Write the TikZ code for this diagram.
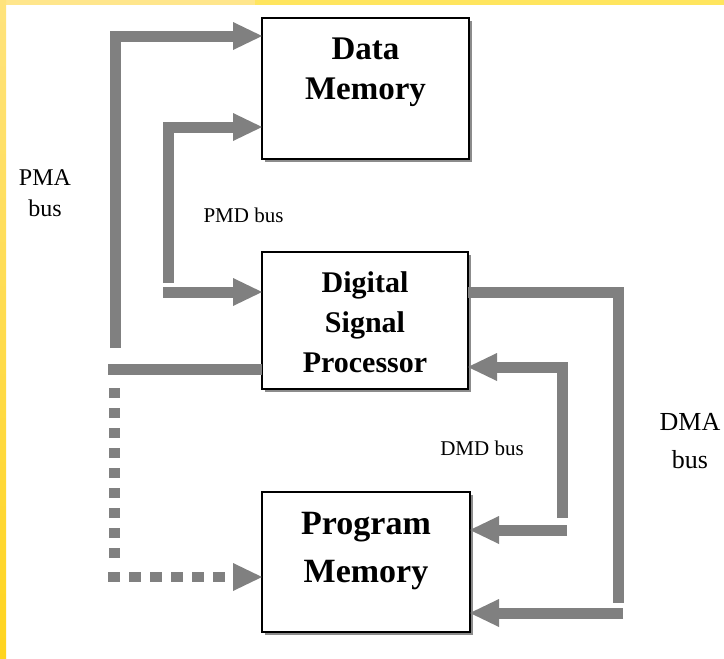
\documentclass[tikz,border=0pt]{standalone}
\usepackage{fontspec}
\setmainfont{Liberation Serif}
\usetikzlibrary{arrows.meta,shadows}
\definecolor{yelA}{HTML}{FFE68C}
\definecolor{yelB}{HTML}{FFE55E}
\definecolor{yelTop}{HTML}{FFE37C}
\definecolor{yelBot}{HTML}{FFD41E}
\definecolor{busgray}{HTML}{808080}
\begin{document}
\begin{tikzpicture}[x=1pt,y=-1pt,
  box/.style={draw=black, line width=1.6pt, fill=white, inner sep=0pt, outer sep=0pt, rectangle,
    general shadow={shadow xshift=3pt, shadow yshift=-3pt, fill=black!45}},
  bus/.style={draw=busgray, line width=11pt, line join=miter, line cap=butt},
  tip/.style={-{Triangle[length=29pt,width=28pt,line width=0pt]}},
  lbl/.style={inner sep=0pt, outer sep=0pt, align=center, text=black}
]
\useasboundingbox (0,0) rectangle (724,659);
\fill[white] (0,0) rectangle (724,659);
\fill[yelA] (0,0) rectangle (255,5);
\fill[yelB] (255,0) rectangle (724,5);
\shade[top color=yelTop, bottom color=yelBot] (0,0) rectangle (6,659);

% boxes
\node[box, minimum width=207pt, minimum height=141pt] (dm) at (365.5,88.5) {};
\node[box, minimum width=206pt, minimum height=137pt] (dsp) at (365,320.5) {};
\node[box, minimum width=208pt, minimum height=140pt] (pm) at (366,562) {};

% box texts
\node[lbl, anchor=north, font=\bfseries\fontsize{33}{40}\selectfont] (dmt) at (365.5,38) {Data\\Memory};
\node[lbl, anchor=north, font=\bfseries\fontsize{30}{40}\selectfont] (dspt) at (365,272) {Digital\\Signal\\Processor};
\node[lbl, anchor=north, font=\bfseries\fontsize{34}{48}\selectfont] (pmt) at (366,512) {Program\\Memory};

% bus labels
\node[lbl, anchor=north, font=\fontsize{24}{31}\selectfont] (pma) at (45,170) {PMA\\bus};
\node[lbl, anchor=base, font=\fontsize{21}{25}\selectfont] (pmd) at (243.5,222) {PMD bus};
\node[lbl, anchor=base, font=\fontsize{21}{25}\selectfont] (dmd) at (482,455) {DMD bus};
\node[lbl, anchor=north, font=\fontsize{26}{38}\selectfont] (dma) at (690,413) {DMA\\bus};

% PMA bus
\coordinate (pmaTop) at (115,36);
\coordinate (pmaEnd) at (115,348);
\draw[bus,tip] (pmaEnd) -- (pmaTop) -- (dm.west |- pmaTop);
\coordinate (pmaJ) at (108,369);
\draw[bus] (dsp.west |- pmaJ) -- (pmaJ);
\coordinate (dotA) at (114,388);
\coordinate (dotB) at (114,558);
\draw[bus, dash pattern=on 10pt off 10pt] (dotA) -- (dotB);
\coordinate (dotC) at (108,577);
\draw[bus, tip, line width=10.5pt, dash pattern=on 12pt off 9pt] (dotC) -- (pm.west |- dotC);

% PMD bus
\coordinate (pmdTop) at (168,127);
\coordinate (pmdEnd) at (168,283);
\draw[bus,tip] (pmdEnd) -- (pmdTop) -- (dm.west |- pmdTop);
\coordinate (pmdB) at (163,292);
\draw[bus,tip] (pmdB) -- (dsp.west |- pmdB);

% DMD bus
\coordinate (dmdTop) at (562,367);
\coordinate (dmdEnd) at (562,518);
\draw[bus,tip] (dmdEnd) -- (dmdTop) -- (dsp.east |- dmdTop);
\coordinate (dmdB) at (567,530);
\draw[bus,tip] (dmdB) -- (pm.east |- dmdB);

% DMA bus
\coordinate (dmaTop) at (618,292);
\coordinate (dmaEnd) at (618,603);
\draw[bus] (dsp.east |- dmaTop) -- (dmaTop) -- (dmaEnd);
\coordinate (dmaB) at (623,613);
\draw[bus,tip] (dmaB) -- (pm.east |- dmaB);
\end{tikzpicture}
\end{document}
